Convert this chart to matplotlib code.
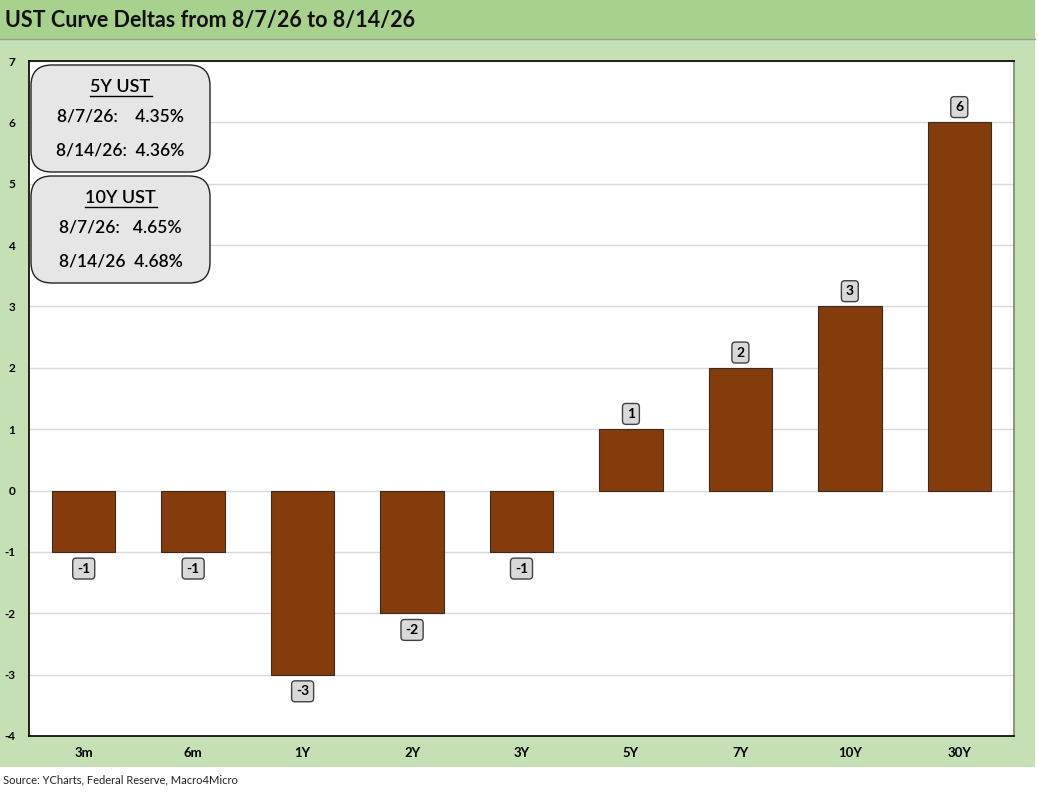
import numpy as np
import matplotlib.pyplot as plt
from matplotlib.patches import FancyBboxPatch, Rectangle

plt.rcParams['font.family'] = ['Lato', 'DejaVu Sans']
plt.rcParams['axes.unicode_minus'] = False

# 数据
tenors = ['3m', '6m', '1Y', '2Y', '3Y', '5Y', '7Y', '10Y', '30Y']
deltas = [-1, -1, -3, -2, -1, 1, 2, 3, 6]

title = 'UST Curve Deltas from 8/7/26 to 8/14/26'
source = 'Source: YCharts, Federal Reserve, Macro4Micro'
box5_lines = ['5Y UST', '8/7/26:    4.35%', '8/14/26:  4.36%']
box10_lines = ['10Y UST', '8/7/26:   4.65%', '8/14/26  4.68%']

W, H = 1038, 794
fig = plt.figure(figsize=(W / 100, H / 100), dpi=100)
fig.patch.set_facecolor('white')

# 背景色块
fig.patches.append(Rectangle((0, 1 - 767 / H), 1035 / W, (767 - 39) / H,
                             transform=fig.transFigure, facecolor='#c5e0b4',
                             edgecolor='none', zorder=-2))
fig.patches.append(Rectangle((0, 1 - 39 / H), 1035 / W, 39 / H,
                             transform=fig.transFigure, facecolor='#a9d18e',
                             edgecolor='none', zorder=-2))
fig.lines.append(plt.Line2D([0, 1035 / W], [1 - 39 / H, 1 - 39 / H],
                            transform=fig.transFigure, color='#9a9a9a', lw=1,
                            zorder=-1))
fig.text(5 / W, 1 - 20 / H, title, fontsize=15.5, fontweight='bold',
         va='center', ha='left', color='#111111')
fig.text(3 / W, 1 - 780 / H, source, fontsize=8, va='center', ha='left',
         color='#222222')

ax = fig.add_axes([29 / W, 1 - 736 / H, (1014 - 29) / W, (736 - 61) / H])
ax.set_facecolor('white')
x = np.arange(len(tenors))
ax.bar(x, deltas, width=0.58, color='#843c0c', edgecolor='#3a2a20',
       linewidth=0.8, zorder=3)
ax.set_xlim(-0.5, len(tenors) - 0.5)
ax.set_ylim(-4, 7)
ax.set_yticks(range(-4, 8))
ax.set_xticks(x)
ax.set_xticklabels(tenors, fontweight='bold', fontsize=9.5)
for t in ax.get_yticklabels():
    t.set_fontweight('bold')
    t.set_fontsize(8.5)
ax.tick_params(length=0, pad=10)
ax.tick_params(axis='x', pad=8)
ax.grid(axis='y', color='#d9d9d9', lw=1, zorder=0)
for s in ['left', 'bottom', 'top']:
    ax.spines[s].set_color('black')
    ax.spines[s].set_linewidth(1.2)
ax.spines['right'].set_color('#7f7f7f')
ax.spines['right'].set_linewidth(1.2)

# 数据标签
for xi, v in zip(x, deltas):
    off = 11 if v > 0 else -12
    ax.annotate(f'{v}', (xi, v), xytext=(0, off), textcoords='offset points',
                ha='center', va='center', fontsize=10, fontweight='bold',
                bbox=dict(boxstyle='round,pad=0.32,rounding_size=0.25',
                          fc='#d9d9d9', ec='#404040', lw=1), zorder=5)

# 左上角的信息框
def info_box(y_top, y_bot, lines):
    x0, x1 = 31, 210
    bx = FancyBboxPatch((x0 / W, 1 - y_bot / H), (x1 - x0) / W, (y_bot - y_top) / H,
                        boxstyle='round,pad=0,rounding_size=0.02',
                        transform=fig.transFigure, fc='#e7e6e6', ec='#222222',
                        lw=1, zorder=10, mutation_aspect=W / H)
    fig.patches.append(bx)
    cx = (x0 + x1) / 2 / W
    h = y_bot - y_top
    fig.text(cx, 1 - (y_top + 0.21 * h) / H, lines[0], ha='center', va='center',
             fontsize=13, fontweight='semibold', color='black', zorder=11)
    # 下划线
    half = 31 if len(lines[0]) < 7 else 36
    fig.lines.append(plt.Line2D([(cx * W - half) / W, (cx * W + half) / W],
                                [1 - (y_top + 0.21 * h + 9) / H] * 2,
                                transform=fig.transFigure, color='black', lw=1,
                                zorder=11))
    fig.text(cx, 1 - (y_top + 0.48 * h) / H, lines[1], ha='center', va='center',
             fontsize=12.5, fontweight='semibold', color='black', zorder=11)
    fig.text(cx, 1 - (y_top + 0.80 * h) / H, lines[2], ha='center', va='center',
             fontsize=12.5, fontweight='semibold', color='black', zorder=11)

info_box(65, 172, box5_lines)
info_box(176, 283, box10_lines)

fig.savefig('out.png', dpi=100)
